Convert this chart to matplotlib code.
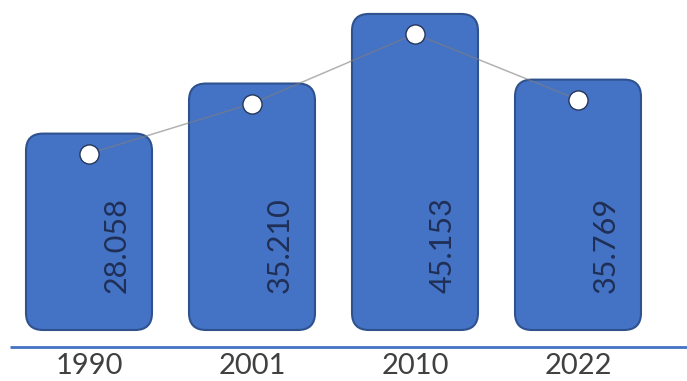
import matplotlib
matplotlib.use("Agg")
import matplotlib.pyplot as plt
from matplotlib.patches import FancyBboxPatch

years = ["1990", "2001", "2010", "2022"]
values = [28.058, 35.210, 45.153, 35.769]
value_labels = ["28.058", "35.210", "45.153", "35.769"]

W, H, DPI = 687, 381, 100
fig = plt.figure(figsize=(W / DPI, H / DPI), dpi=DPI)
ax = fig.add_axes([0, 0, 1, 1])
ax.set_axis_off()

x0_px, step_px = 89, 163
y0_px, ypx = 330, 7.0
ax.set_xlim(-x0_px / step_px, (W - x0_px) / step_px)
ax.set_ylim(-(H - y0_px) / ypx, y0_px / ypx)

bar_w = 126 / step_px
radius_px = 17
r = radius_px / step_px
aspect = step_px / ypx

fill = "#4472C4"
edge = "#2F528F"

xs = list(range(len(values)))
for x, v in zip(xs, values):
    p = FancyBboxPatch((x - bar_w / 2, 0), bar_w, v,
                       boxstyle=f"round,pad=0,rounding_size={r}",
                       mutation_aspect=aspect,
                       facecolor=fill, edgecolor=edge, linewidth=1.5, zorder=2)
    ax.add_patch(p)

hole_off = 20 / ypx
hy = [v - hole_off for v in values]
ax.plot(xs, hy, color="#7F7F7F", lw=1.1, alpha=0.6, zorder=3)
ax.scatter(xs, hy, s=190, facecolor="white", edgecolor="#26365A", linewidths=1.0, zorder=4)

for x, lab in zip(xs, value_labels):
    ax.text(x + 28 / step_px, 37 / ypx, lab, rotation=90, ha="center", va="bottom",
            fontsize=22, color="#1F2F55", family="Lato", zorder=5)

ax.plot([-(x0_px - 10) / step_px, (W - x0_px) / step_px], [-17 / ypx] * 2,
        color="#4472C4", lw=2, zorder=1, solid_capstyle="butt")

for x, y in zip(xs, years):
    ax.text(x, -36 / ypx, y, ha="center", va="center", fontsize=21,
            color="#404040", family="Lato")

fig.savefig("out.png", dpi=DPI)
